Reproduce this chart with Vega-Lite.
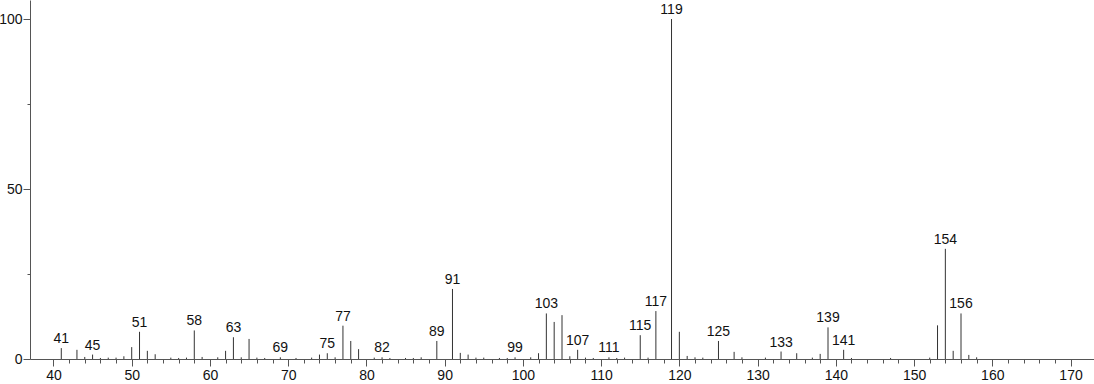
{
  "$schema": "https://vega.github.io/schema/vega-lite/v6.json",
  "width": 1064,
  "height": 359,
  "autosize": {"type": "none"},
  "padding": {"left": 30, "top": 0, "right": 0, "bottom": 25},
  "background": "white",
  "config": {
    "view": {"stroke": null},
    "font": "Liberation Sans",
    "axis": {"grid": false, "domainColor": "#555", "tickColor": "#555", "labelColor": "#111", "labelFontSize": 14, "labelFont": "Liberation Sans", "title": null}
  },
  "data": {
    "values": [
      {"mz": 41, "i": 3.2, "lab": true},
      {"mz": 43, "i": 2.7, "lab": false},
      {"mz": 44, "i": 0.6, "lab": false},
      {"mz": 45, "i": 1.3, "lab": true},
      {"mz": 46, "i": 0.3, "lab": false},
      {"mz": 47, "i": 0.4, "lab": false},
      {"mz": 48, "i": 0.4, "lab": false},
      {"mz": 49, "i": 0.8, "lab": false},
      {"mz": 50, "i": 3.5, "lab": false},
      {"mz": 51, "i": 8.0, "lab": true},
      {"mz": 52, "i": 2.4, "lab": false},
      {"mz": 53, "i": 1.4, "lab": false},
      {"mz": 55, "i": 0.4, "lab": false},
      {"mz": 56, "i": 0.3, "lab": false},
      {"mz": 57, "i": 0.4, "lab": false},
      {"mz": 58, "i": 8.4, "lab": true},
      {"mz": 59, "i": 0.6, "lab": false},
      {"mz": 61, "i": 0.5, "lab": false},
      {"mz": 62, "i": 2.4, "lab": false},
      {"mz": 63, "i": 6.4, "lab": true},
      {"mz": 64, "i": 0.5, "lab": false},
      {"mz": 65, "i": 5.9, "lab": false},
      {"mz": 66, "i": 0.4, "lab": false},
      {"mz": 67, "i": 0.3, "lab": false},
      {"mz": 69, "i": 0.5, "lab": true},
      {"mz": 71, "i": 0.3, "lab": false},
      {"mz": 73, "i": 0.4, "lab": false},
      {"mz": 74, "i": 1.3, "lab": false},
      {"mz": 75, "i": 1.7, "lab": true},
      {"mz": 76, "i": 0.5, "lab": false},
      {"mz": 77, "i": 9.8, "lab": true},
      {"mz": 78, "i": 5.3, "lab": false},
      {"mz": 79, "i": 2.9, "lab": false},
      {"mz": 81, "i": 0.4, "lab": false},
      {"mz": 82, "i": 0.5, "lab": true},
      {"mz": 83, "i": 0.3, "lab": false},
      {"mz": 85, "i": 0.3, "lab": false},
      {"mz": 86, "i": 0.3, "lab": false},
      {"mz": 87, "i": 0.5, "lab": false},
      {"mz": 89, "i": 5.3, "lab": true},
      {"mz": 91, "i": 20.6, "lab": true},
      {"mz": 92, "i": 1.8, "lab": false},
      {"mz": 93, "i": 1.3, "lab": false},
      {"mz": 94, "i": 0.4, "lab": false},
      {"mz": 95, "i": 0.4, "lab": false},
      {"mz": 97, "i": 0.3, "lab": false},
      {"mz": 98, "i": 0.3, "lab": false},
      {"mz": 99, "i": 0.5, "lab": true},
      {"mz": 101, "i": 0.5, "lab": false},
      {"mz": 102, "i": 1.7, "lab": false},
      {"mz": 103, "i": 13.4, "lab": true},
      {"mz": 104, "i": 10.9, "lab": false},
      {"mz": 105, "i": 12.9, "lab": false},
      {"mz": 106, "i": 0.8, "lab": false},
      {"mz": 107, "i": 2.7, "lab": true},
      {"mz": 108, "i": 0.4, "lab": false},
      {"mz": 109, "i": 0.3, "lab": false},
      {"mz": 111, "i": 0.5, "lab": true},
      {"mz": 112, "i": 0.3, "lab": false},
      {"mz": 113, "i": 0.4, "lab": false},
      {"mz": 115, "i": 7.0, "lab": true},
      {"mz": 116, "i": 0.4, "lab": false},
      {"mz": 117, "i": 14.1, "lab": true},
      {"mz": 119, "i": 100, "lab": true},
      {"mz": 120, "i": 8.0, "lab": false},
      {"mz": 121, "i": 0.9, "lab": false},
      {"mz": 122, "i": 0.5, "lab": false},
      {"mz": 123, "i": 0.4, "lab": false},
      {"mz": 125, "i": 5.3, "lab": true},
      {"mz": 127, "i": 2.1, "lab": false},
      {"mz": 128, "i": 0.5, "lab": false},
      {"mz": 131, "i": 0.4, "lab": false},
      {"mz": 133, "i": 2.2, "lab": true},
      {"mz": 135, "i": 1.7, "lab": false},
      {"mz": 137, "i": 0.4, "lab": false},
      {"mz": 138, "i": 1.5, "lab": false},
      {"mz": 139, "i": 9.3, "lab": true},
      {"mz": 141, "i": 2.7, "lab": true},
      {"mz": 142, "i": 0.3, "lab": false},
      {"mz": 147, "i": 0.3, "lab": false},
      {"mz": 152, "i": 0.4, "lab": false},
      {"mz": 153, "i": 9.9, "lab": false},
      {"mz": 154, "i": 32.4, "lab": true},
      {"mz": 155, "i": 2.4, "lab": false},
      {"mz": 156, "i": 13.4, "lab": true},
      {"mz": 157, "i": 1.2, "lab": false},
      {"mz": 158, "i": 0.5, "lab": false}
    ]
  },
  "resolve": {"axis": {"x": "independent", "y": "independent"}},
  "layer": [
    {
      "mark": {"type": "rule", "color": "#333", "strokeWidth": 1},
      "encoding": {
        "x": {
          "field": "mz", "type": "quantitative",
          "scale": {"domain": [37, 173], "nice": false, "zero": false},
          "axis": {
            "orient": "bottom",
            "values": [40, 50, 60, 70, 80, 90, 100, 110, 120, 130, 140, 150, 160, 170],
            "tickSize": 7,
            "labelPadding": 2,
            "labelFlush": false,
            "labelOverlap": false
          }
        },
        "y": {
          "field": "i", "type": "quantitative",
          "scale": {"domain": [0, 105.6], "nice": false},
          "axis": {
            "orient": "left",
            "values": [0, 50, 100],
            "tickSize": 7,
            "labelPadding": 1,
            "labelFlush": false
          }
        },
        "y2": {"datum": 0}
      }
    },
    {
      "transform": [{"filter": "datum.lab"}],
      "mark": {"type": "text", "baseline": "bottom", "dy": -2, "fontSize": 14, "font": "Liberation Sans", "color": "#111"},
      "encoding": {
        "x": {
          "field": "mz", "type": "quantitative",
          "axis": {
            "orient": "bottom",
            "values": [42,44,46,48,52,54,56,58,62,64,66,68,72,74,76,78,82,84,86,88,92,94,96,98,102,104,106,108,112,114,116,118,122,124,126,128,132,134,136,138,142,144,146,148,152,154,156,158,162,164,166,168],
            "tickSize": 4,
            "labels": false,
            "domain": false
          }
        },
        "y": {
          "field": "i", "type": "quantitative",
          "axis": {
            "orient": "left",
            "values": [25, 75],
            "tickSize": 3,
            "labels": false,
            "domain": false
          }
        },
        "text": {"field": "mz", "type": "quantitative"}
      }
    }
  ]
}
